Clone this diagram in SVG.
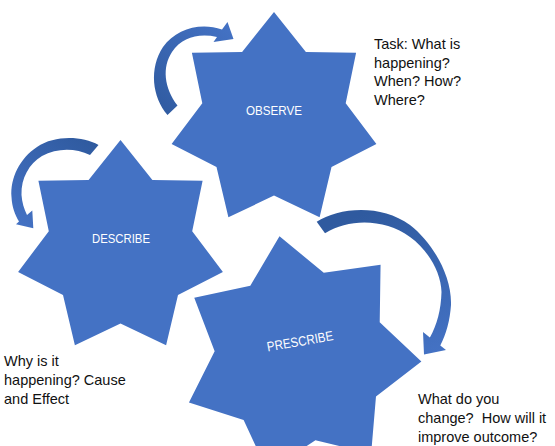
<svg xmlns="http://www.w3.org/2000/svg" width="555" height="446" viewBox="0 0 555 446">
  <style>
    .star { fill: #4472C4; }
    .lbl { font-family: "Liberation Sans", Arial, sans-serif; font-size: 13.5px; fill: #FFFFFF; text-anchor: middle; }
    .note { font-family: "Liberation Sans", Arial, sans-serif; font-size: 14.5px; fill: #111111; white-space: pre; }
  </style>
  <defs>
    <linearGradient id="g1" gradientUnits="userSpaceOnUse" x1="150" y1="110" x2="232" y2="28">
      <stop offset="0" stop-color="#2F5A9F"/>
      <stop offset="1" stop-color="#4472C4"/>
    </linearGradient>
    <linearGradient id="g2" gradientUnits="userSpaceOnUse" x1="90" y1="140" x2="20" y2="228">
      <stop offset="0" stop-color="#2F5A9F"/>
      <stop offset="1" stop-color="#4472C4"/>
    </linearGradient>
    <linearGradient id="g3" gradientUnits="userSpaceOnUse" x1="380" y1="208" x2="430" y2="355">
      <stop offset="0" stop-color="#2F5A9F"/>
      <stop offset="1" stop-color="#4472C4"/>
    </linearGradient>
  </defs>

  <g id="connectors">
    <path id="arrow-observe" fill="url(#g1)" d="M167.5,115 C152,97 149,68 163,47 C176,29 200,22 222,29.5 L227.5,22 L233.5,39 L213.5,42 L217,37 C199,33 182,37 172,52 C162,67 164,88 177.5,105.5 Z"/>
    <path id="arrow-describe" fill="url(#g2)" d="M98.5,145 C82,136 55,135 37,147 C20,158 10,178 11.5,197 C12,207 15,215 19,221.5 L16,224.3 L33.3,228.3 L32.3,210.5 L27,215 C24,209 22,202 21.5,195 C21,178 29,164 42,156 C57,148 75,148 90,155 Z"/>
    <path id="arrow-prescribe" fill="url(#g3)" d="M316.7,221.7 C338,208 380,203 410,225 C432,242 452,275 451,305 C450,320 446,335 440.3,345.5 L446,350 L424,354.5 L423,332 L429.9,337.4 C437,325 441,310 441.5,292 C441,272 428,250 410,237 C385,219 350,218 325,233.3 Z"/>
  </g>

  <g id="node-observe">
    <polygon class="star" points="274,12 305.9,51.9 356.1,52.7 345.7,103.2 376.4,144 331.5,167.1 319.6,217.3 274,195.6 228.4,217.3 216.5,167.1 171.6,144 202.3,103.2 191.9,52.7 242.1,51.9"/>
    <text class="lbl" x="274" y="115" textLength="56" lengthAdjust="spacingAndGlyphs">OBSERVE</text>
  </g>

  <g id="node-describe">
    <polygon class="star" points="120.5,140 152.4,179.9 202.6,180.7 192.2,231.2 222.9,272 178,295.1 166.1,345.3 120.5,323.6 74.9,345.3 63,295.1 18.1,272 48.8,231.2 38.4,180.7 88.6,179.9"/>
    <text class="lbl" x="121" y="243" textLength="58" lengthAdjust="spacingAndGlyphs">DESCRIBE</text>
  </g>

  <g id="node-prescribe" transform="translate(300.5,355.5) rotate(-10)">
    <polygon class="star" points="0,-121 37.3,-77.5 94.6,-75.4 83.8,-19.1 118,26.9 67.2,53.6 52.5,109 0,86 -52.5,109 -67.2,53.6 -118,26.9 -83.8,-19.1 -94.6,-75.4 -37.3,-77.5"/>
    <text class="lbl" x="2" y="-9.5" textLength="67" lengthAdjust="spacingAndGlyphs">PRESCRIBE</text>
  </g>

  <g id="notes">
    <text class="note" x="374" y="49">Task: What is</text>
    <text class="note" x="374" y="67.5">happening?</text>
    <text class="note" x="374" y="86">When? How?</text>
    <text class="note" x="374" y="104.5">Where?</text>

    <text class="note" x="4" y="366">Why is it</text>
    <text class="note" x="4" y="385">happening? Cause</text>
    <text class="note" x="4" y="404">and Effect</text>

    <text class="note" x="418" y="404">What do you</text>
    <text class="note" x="418" y="423">change?  How will it</text>
    <text class="note" x="418" y="442">improve outcome?</text>
  </g>
</svg>
